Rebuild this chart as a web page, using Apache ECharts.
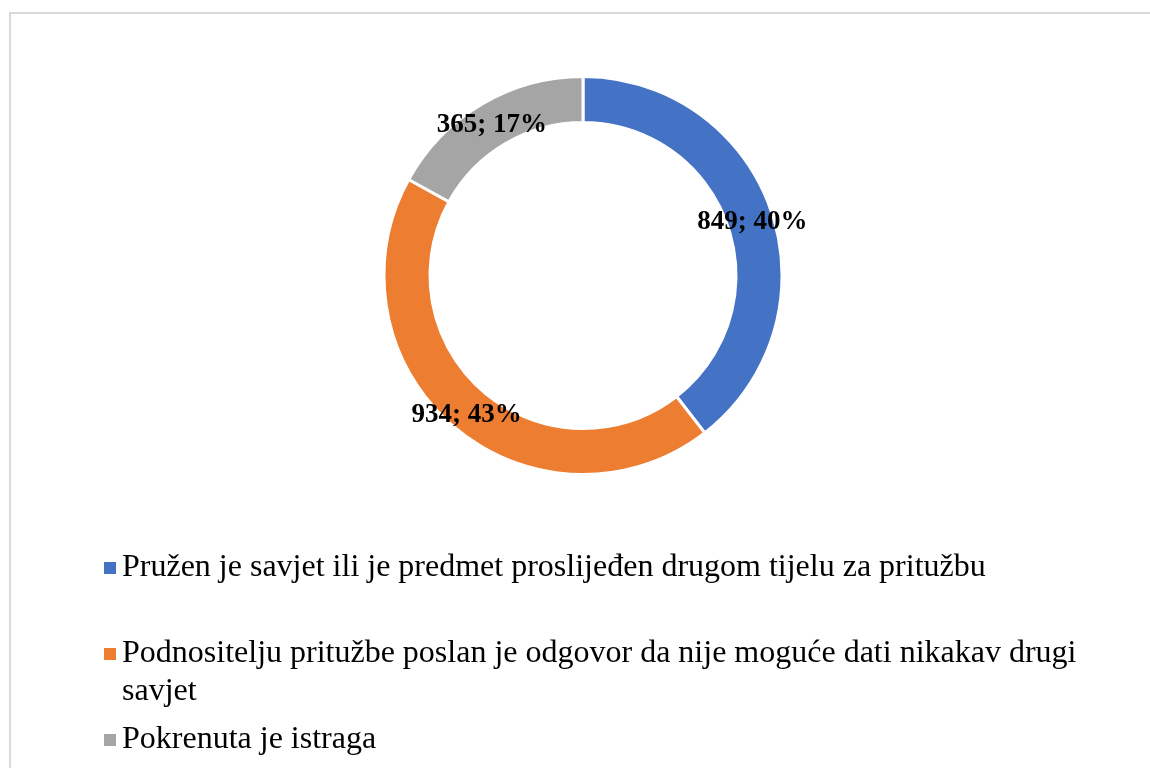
<!DOCTYPE html>
<html>
<head>
<meta charset="utf-8">
<script src="https://cdn.jsdelivr.net/npm/echarts@6/dist/echarts.min.js"></script>
<style>
html,body{margin:0;padding:0;background:#fff;}
#chart{width:1150px;height:768px;}
</style>
</head>
<body>
<div id="chart"></div>
<script>
const categories = [
  'Pružen je savjet ili je predmet proslijeđen drugom tijelu za pritužbu',
  'Podnositelju pritužbe poslan je odgovor da nije moguće dati nikakav drugi savjet',
  'Pokrenuta je istraga'
];
// legend text as wrapped in the reference (leading empty line keeps the marker on line 1)
const legendLabels = [
  'Pružen je savjet ili je predmet proslijeđen drugom tijelu za pritužbu',
  '\nPodnositelju pritužbe poslan je odgovor da nije moguće dati nikakav drugi\nsavjet',
  'Pokrenuta je istraga'
];
const values = [849, 934, 365];
const colors = ['#4472C4', '#ED7D31', '#A5A5A5'];

const chart = echarts.init(document.getElementById('chart'));
const fontFam = '"Liberation Serif", "Times New Roman", serif';
const LH = 38;

chart.setOption({
  animation: false,
  backgroundColor: '#fff',
  graphic: [{
    type: 'rect',
    shape: {x: 10, y: 13, width: 1200, height: 800},
    style: {fill: 'none', stroke: '#d9d9d9', lineWidth: 2},
    silent: true,
    z: -10
  }],
  legend: {
    orient: 'vertical',
    left: 97,
    top: 544,
    padding: 5,
    itemWidth: 14,
    itemHeight: 14,
    itemGap: 10,
    icon: 'rect',
    selectedMode: false,
    formatter: function (name) {
      return legendLabels[categories.indexOf(name)];
    },
    textStyle: {
      fontFamily: fontFam,
      fontSize: 32,
      color: '#000',
      lineHeight: LH
    },
    data: categories
  },
  series: [{
    type: 'pie',
    center: [583, 275.5],
    radius: [153, 199],
    startAngle: 90,
    clockwise: true,
    percentPrecision: 0,
    avoidLabelOverlap: false,
    itemStyle: {borderColor: '#fff', borderWidth: 3},
    label: {
      show: true,
      position: 'inside',
      formatter: '{c}; {d}%',
      fontFamily: fontFam,
      fontWeight: 'bold',
      fontSize: 27,
      color: '#000',
      offset: [0, 4]
    },
    labelLine: {show: false},
    emphasis: {disabled: true},
    data: categories.map(function (c, i) {
      return {name: c, value: values[i], itemStyle: {color: colors[i]}};
    })
  }]
});
</script>
</body>
</html>
